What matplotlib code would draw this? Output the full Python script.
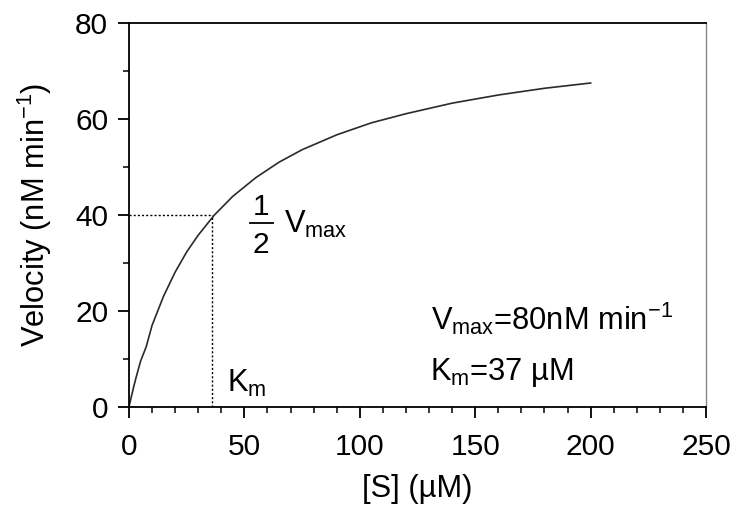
import matplotlib
matplotlib.use("Agg")
import matplotlib.pyplot as plt
from matplotlib.ticker import MultipleLocator

plt.rcParams['font.family'] = ['Liberation Sans', 'DejaVu Sans']
plt.rcParams['mathtext.fontset'] = 'custom'
plt.rcParams['mathtext.rm'] = 'Liberation Sans'
plt.rcParams['mathtext.it'] = 'Liberation Sans'
plt.rcParams['mathtext.bf'] = 'Liberation Sans:bold'
plt.rcParams['mathtext.default'] = 'regular'

# Substrate concentration [S] (uM) and velocity (nM/min)
S = [0, 1, 2, 3, 5, 7.5, 10, 15, 20, 25, 30, 37, 45, 55, 65, 75, 90, 105, 120, 140, 160, 180, 200]
V = [0, 2.1, 4.1, 6.0, 9.5, 12.6, 17.0, 23.1, 28.1, 32.3, 35.8, 40.0, 43.9, 47.8, 51.0, 53.6,
     56.7, 59.2, 61.1, 63.3, 65.0, 66.4, 67.5]
Km = 36
half_vmax = 40

x_ticks = [0, 50, 100, 150, 200, 250]
y_ticks = [0, 20, 40, 60, 80]

FS = 21.5
FS_T = 22.2

fig = plt.figure(figsize=(7.34, 5.09), dpi=100)
ax = fig.add_axes([0.1757, 0.2004, 0.7862, 0.7544])

ax.plot(S, V, color='#2a2a2a', lw=1.2)
ax.plot([0, Km], [half_vmax, half_vmax], color='black', lw=1.0, ls=(0, (1.5, 1.5)))
ax.plot([Km, Km], [0, half_vmax], color='black', lw=1.0, ls=(0, (1.5, 1.5)))

ax.set_xlim(0, 250)
ax.set_ylim(0, 80)
ax.set_xticks(x_ticks)
ax.set_yticks(y_ticks)
ax.xaxis.set_minor_locator(MultipleLocator(10))
ax.yaxis.set_minor_locator(MultipleLocator(10))
ax.tick_params(axis='both', which='major', direction='out', length=8, width=1.3,
               labelsize=FS, colors='black')
ax.tick_params(axis='x', which='major', pad=11)
ax.tick_params(axis='y', which='major', pad=7)
ax.tick_params(axis='both', which='minor', direction='out', length=4.5, width=1.1)
ax.tick_params(top=False, right=False, which='both')
for sp in ax.spines.values():
    sp.set_linewidth(1.3)
ax.spines['right'].set_color('#888888')
ax.spines['right'].set_linewidth(1.0)

ax.set_xlabel('[S] (µM)', fontsize=FS_T, labelpad=9)
ax.set_ylabel('Velocity (nM min$^{-1}$)', fontsize=FS_T, labelpad=15)

# 1/2 Vmax label drawn as a stacked fraction
ax.text(57.2, 41.6, '1', fontsize=FS, ha='center', va='center')
ax.plot([52.4, 62.4], [38.3, 38.3], color='black', lw=1.3)
ax.text(57.2, 33.8, '2', fontsize=FS, ha='center', va='center')
ax.text(67.3, 36.2, 'V$_{max}$', fontsize=FS_T, ha='left', va='baseline')

ax.text(42.3, 3.1, 'K$_{m}$', fontsize=FS_T, ha='left', va='baseline')
ax.text(130.8, 16.0, 'V$_{max}$=80nM min$^{-1}$', fontsize=FS_T, ha='left', va='baseline')
ax.text(130.4, 5.6, 'K$_{m}$=37 µM', fontsize=FS_T, ha='left', va='baseline')

fig.savefig('out.png', dpi=100)
